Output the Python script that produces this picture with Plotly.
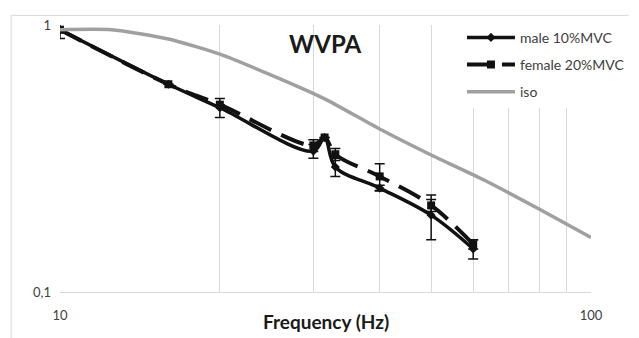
import plotly.graph_objects as go

# ---- data ----
freq = [10, 16, 20, 30, 31.5, 33, 40, 50, 60]
male = [0.96, 0.60, 0.49, 0.337, 0.379, 0.294, 0.245, 0.194, 0.145]
male_err = [0.07, 0.0, 0.04, 0.02, 0.0, 0.023, 0.006, 0.037, 0.012]
female = [0.96, 0.60, 0.503, 0.354, 0.379, 0.328, 0.271, 0.211, 0.151]
female_err = [0.0, 0.0, 0.0, 0.018, 0.0, 0.017, 0.031, 0.011, 0.006]
iso_freq = [10, 12.5, 16, 20, 25, 31.5, 40, 50, 63, 80, 100]
iso = [0.96, 0.96, 0.886, 0.778, 0.649, 0.529, 0.408, 0.326, 0.262, 0.204, 0.160]

x_ticks = [10, 20, 30, 40, 50, 60, 70, 80, 90, 100]
x_ticktext = ["10", "", "", "", "", "", "", "", "", "100"]
y_ticks = [0.1, 1]
y_ticktext = ["0,1", "1"]

FONT = "Lato, 'Open Sans', sans-serif"
GRID = "#d9d9d9"

fig = go.Figure()
fig.add_trace(go.Scatter(
    x=freq, y=male, name="male 10%MVC", mode="lines+markers", legendgroup="a",
    line=dict(color="#111111", width=3.5, shape="spline", smoothing=1),
    marker=dict(symbol="diamond", size=7, color="#111111"),
    error_y=dict(type="data", array=male_err, color="#111111", thickness=1.5, width=5),
))
fig.add_trace(go.Scatter(
    x=freq, y=female, name="female 20%MVC", mode="lines+markers", legendgroup="b",
    line=dict(color="#111111", width=4, shape="spline", smoothing=1, dash="24px,11px"),
    marker=dict(symbol="square", size=8, color="#111111"),
    error_y=dict(type="data", array=female_err, color="#111111", thickness=1.5, width=5),
))
fig.add_trace(go.Scatter(
    x=iso_freq, y=iso, name="iso", mode="lines", legendgroup="c",
    line=dict(color="#a0a0a0", width=3.5, shape="spline", smoothing=0.6),
))

# page body has an 8px margin, so the figure is drawn 8px in from the window corner
fig.update_layout(
    width=631, height=330,
    margin=dict(l=52, r=47, t=9, b=46),
    paper_bgcolor="white", plot_bgcolor="white",
    font=dict(family=FONT, size=13, color="#404040"),
    showlegend=True,
    legend=dict(
        x=0.757, y=1.012, xanchor="left", yanchor="top",
        bgcolor="white", borderwidth=0,
        font=dict(family=FONT, size=14, color="#404040"),
        itemwidth=48, tracegroupgap=6, traceorder="grouped",
    ),
    xaxis=dict(
        type="log", range=[1, 2],
        tickvals=x_ticks, ticktext=x_ticktext,
        showgrid=True, gridcolor=GRID, gridwidth=1,
        showline=True, linecolor=GRID, linewidth=1,
        ticks="", ticklabelstandoff=11,
        zeroline=False,
    ),
    yaxis=dict(
        type="log", range=[-1, 0],
        tickvals=y_ticks, ticktext=y_ticktext,
        showgrid=True, gridcolor=GRID, gridwidth=1,
        showline=False,
        ticks="", ticklabelstandoff=8,
        zeroline=False,
    ),
    annotations=[
        dict(text="<b>WVPA</b>", x=0.5, y=0.931, xref="paper", yref="paper",
             xanchor="center", yanchor="middle", showarrow=False,
             font=dict(family=FONT, size=24, color="#1a1a1a")),
        dict(text="<b>Frequency (Hz)</b>", x=0.5, y=-0.112, xref="paper", yref="paper",
             xanchor="center", yanchor="middle", showarrow=False,
             font=dict(family=FONT, size=19, color="#1a1a1a")),
    ],
    shapes=[
        dict(type="line", xref="paper", yref="paper", x0=-0.0921, x1=1.071, y0=1.036, y1=1.036,
             line=dict(color=GRID, width=1)),
        dict(type="line", xref="paper", yref="paper", x0=-0.0921, x1=-0.0921, y0=1.036, y1=-0.2,
             line=dict(color=GRID, width=1)),
    ],
)

fig.write_html("out.html")
